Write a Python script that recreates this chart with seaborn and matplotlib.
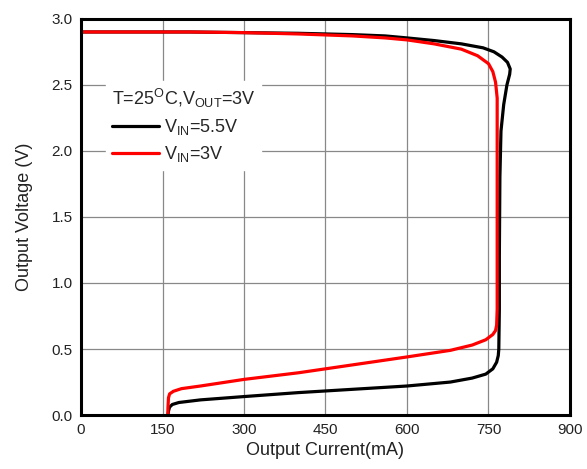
import matplotlib
matplotlib.use("Agg")
import matplotlib.pyplot as plt
import seaborn as sns
import numpy as np

# Data
vin55_current = [0, 100, 200, 300, 400, 500, 560, 600, 650, 700, 740, 760, 775, 785, 790,
                 789, 784, 778, 773, 771, 770, 770, 769, 768, 765, 758, 745, 720, 680, 600,
                 500, 400, 300, 220, 180, 168, 163, 161, 160]
vin55_voltage = [2.9, 2.9, 2.9, 2.895, 2.89, 2.88, 2.87, 2.855, 2.835, 2.81, 2.78, 2.75, 2.71, 2.67, 2.62,
                 2.58, 2.5, 2.35, 2.15, 1.8, 1.2, 0.8, 0.5, 0.45, 0.4, 0.35, 0.31, 0.28, 0.25, 0.22,
                 0.195, 0.17, 0.14, 0.115, 0.095, 0.08, 0.06, 0.03, 0.0]

vin3_current = [0, 100, 200, 300, 400, 500, 560, 600, 650, 700, 730, 750, 758, 763, 766,
                766, 766, 765, 763, 758, 745, 720, 680, 600, 500, 400, 300, 220, 185, 170,
                163, 161, 160, 160]
vin3_voltage = [2.9, 2.9, 2.9, 2.895, 2.885, 2.87, 2.855, 2.84, 2.81, 2.77, 2.72, 2.66, 2.6, 2.52, 2.4,
                1.5, 0.8, 0.68, 0.64, 0.61, 0.57, 0.53, 0.49, 0.44, 0.38, 0.32, 0.27, 0.22, 0.2, 0.18,
                0.16, 0.13, 0.05, 0.0]

x_ticks = [0, 150, 300, 450, 600, 750, 900]
y_ticks = [0.0, 0.5, 1.0, 1.5, 2.0, 2.5, 3.0]

sns.set_theme(style="white")
plt.rcParams['font.family'] = ['Liberation Sans', 'DejaVu Sans']
plt.rcParams['mathtext.fontset'] = 'custom'
plt.rcParams['mathtext.rm'] = 'Liberation Sans'
plt.rcParams['mathtext.it'] = 'Liberation Sans'

fig = plt.figure(figsize=(5.87, 4.69), dpi=100)
ax = fig.add_axes([0.138, 0.115, 0.833, 0.845])

sns.lineplot(x=vin55_current, y=vin55_voltage, sort=False, estimator=None, ax=ax,
             color="black", linewidth=2.3, label=r"V$_{\mathrm{IN}}$=5.5V")
sns.lineplot(x=vin3_current, y=vin3_voltage, sort=False, estimator=None, ax=ax,
             color="#ff0000", linewidth=2.3, label=r"V$_{\mathrm{IN}}$=3V")

ax.set_xlim(0, 900)
ax.set_ylim(0, 3.0)
ax.set_xticks(x_ticks)
ax.set_xticklabels([str(v) for v in x_ticks])
ax.set_yticks(y_ticks)
ax.set_yticklabels([f"{v:.1f}" for v in y_ticks])
ax.tick_params(axis='both', length=0, labelsize=11, colors="#222222", pad=6)
ax.grid(True, color="#888888", linewidth=0.9)
ax.set_axisbelow(True)
for s in ax.spines.values():
    s.set_color("black")
    s.set_linewidth(2.2)

ax.set_xlabel("Output Current(mA)", fontsize=13, color="#222222", labelpad=3)
ax.set_ylabel("Output Voltage (V)", fontsize=13, color="#222222", labelpad=13)

leg = ax.legend(loc="upper left", bbox_to_anchor=(0.033, 0.865),
                title=r"T=25$^{\mathrm{O}}$C,V$_{\mathrm{OUT}}$=3V",
                fontsize=13, title_fontsize=13, frameon=True, fancybox=False,
                handlelength=2.6, handletextpad=0.3, borderpad=0.3, labelspacing=0.4,
                alignment="left")
leg.get_frame().set_facecolor("white")
leg.get_frame().set_edgecolor("white")
leg.get_frame().set_alpha(1.0)

fig.savefig("out.png", dpi=100)
